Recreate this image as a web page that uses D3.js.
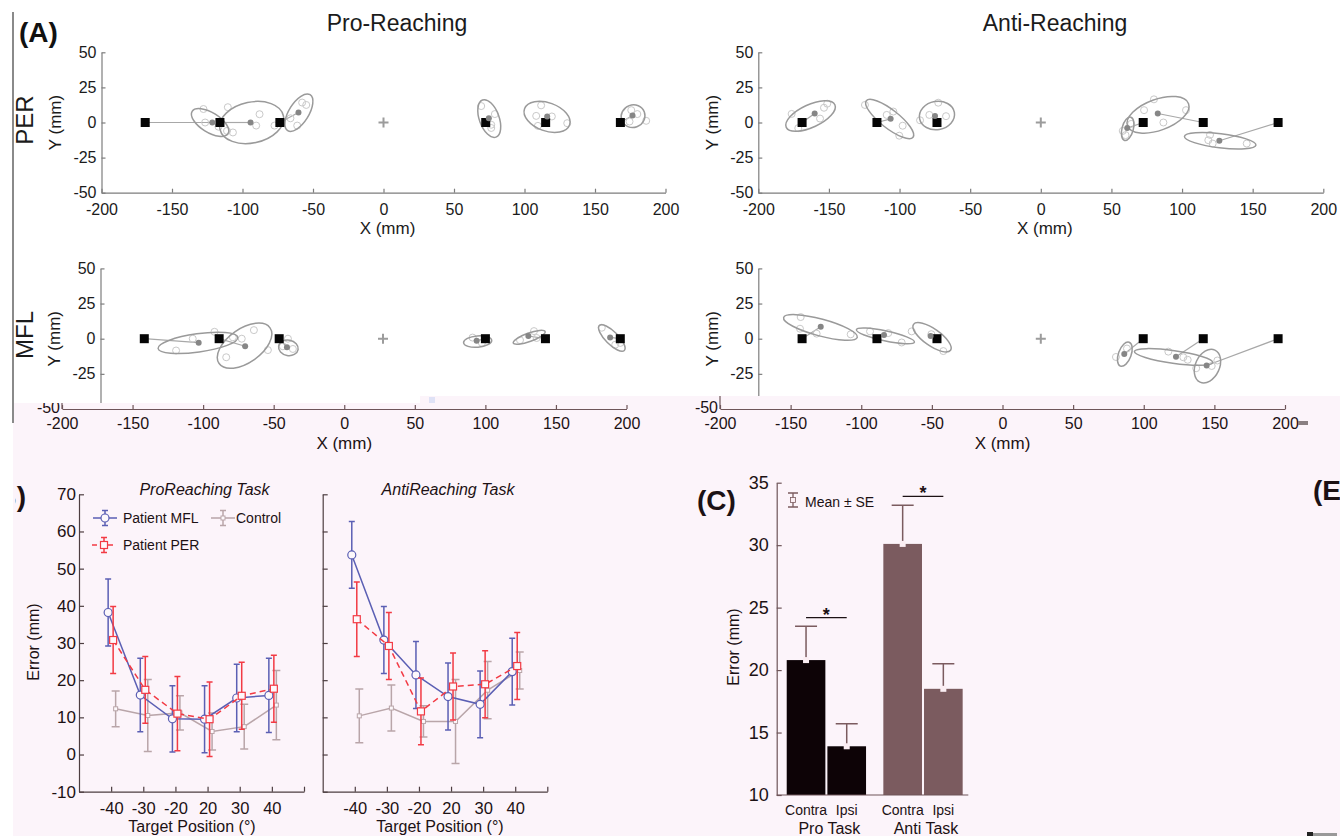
<!DOCTYPE html>
<html><head><meta charset="utf-8">
<script src="https://cdn.jsdelivr.net/npm/d3@7/dist/d3.min.js"></script>
<style>
html,body{margin:0;padding:0;background:#fff;}
svg{display:block;font-family:"Liberation Sans",Arial,Helvetica,sans-serif;}
</style></head><body>
<svg id="chart" width="1340" height="836"></svg>
<script>
// ================= DATA =================
// (A) reach endpoints, mm
const xTicksMM = [-200,-150,-100,-50,0,50,100,150,200];
const yTicksMM = [-50,-25,0,25,50];
const targetsX = [-169,-116,-73.5,72.5,115,168];

// means [x,y]; ellipses [cx,cy,semiMajor,semiMinor,angleDeg]; trials [[x,y],...]
const perProMeans = [[-121.4,0],[-94.3,0],[-60.3,7.1],[74.7,3.1],[116.1,4.3],[176.6,5]];
const perProEllipses = [[-123,0,15,7,-32],[-93.5,0,23,14.5,12],[-60,7,15,7,58],[75,2.8,14,7,-70],[116,4,17,10,-20],[177,4.5,8.5,8,20]];
const perProTrials = [
  [[-127.7,9.6],[-126.5,0],[-117,-3],[-111,-6]],
  [[-110.4,10.9],[-87.9,5.9],[-90.3,-2.2],[-77.3,-2.2],[-106.8,-7.1]],
  [[-57.7,14.2],[-54.8,12.5],[-61.2,-2.2],[-66,3]],
  [[69.3,11.7],[76.4,-1.6],[76.4,-3.9],[79,6]],
  [[111.8,12.2],[108.3,4.7],[119.4,4.3],[109.5,-2.4],[130.3,-0.5]],
  [[175.7,8.8],[180,6],[174.5,0.7],[186.3,1.2]]
];

const perAntiMeans = [[-160.1,6.4],[-106.3,2.6],[-74.9,4.7],[61.2,-4],[82.8,6.4],[126.4,-13]];
const perAntiEllipses = [[-163,4.6,19,8,25],[-107,2.5,21,6.5,-38],[-73.5,5,12.5,10,10],[61.5,-4.5,8.5,4,75],[83,5.5,23,11,20],[127,-13,25.5,5,-7]];
const perAntiTrials = [
  [[-176.4,6.1],[-171.7,-4],[-156.3,2.8],[-153.5,10.5],[-151.2,13.4]],
  [[-124.5,12.5],[-109.1,5.4],[-104.4,7.8],[-97.8,-2.3],[-100.2,-9.4]],
  [[-78.9,5.4],[-72.6,14.1],[-67.1,4.5],[-85.5,1.6]],
  [[64,-1],[60,-9],[58,-6]],
  [[80.1,16.5],[73.1,8.8],[86.8,0],[102.8,8.8]],
  [[119.8,-8.8],[118.6,-12.6],[121.7,-15],[145.8,-15]]
];

const mflProMeans = [[-130.5,-2.8],[-97.6,-5.4],[-68,-6.1],[66.3,-1.4],[102.9,1.9],[160.8,0.9]];
const mflProEllipses = [[-131,-3,28.5,6.5,8],[-98,-5,22,12,35],[-67,-6.5,7,5.5,-10],[67,-2,10,4,5],[103.5,1,12,3,20],[162,0.5,12.5,4.5,-45]];
const mflProTrials = [
  [[-146.5,-8.4],[-134.7,0],[-119.3,4.9],[-106.3,1]],
  [[-91.4,6.1],[-111,-13.2],[-100,0],[-81.5,-8.1]],
  [[-67.3,0],[-70.9,-5.4],[-63.8,-7.3]],
  [[63.4,0.8],[70,-3]],
  [[106.9,5.4],[108.8,0.5],[97,-1]],
  [[154.9,7.8],[164.4,-4.3],[168,-3]]
];

const mflAntiMeans = [[-155.8,8.5],[-111,2.6],[-78,1.9],[59.1,-10.9],[95.7,-12.8],[117.4,-19.1]];
const mflAntiEllipses = [[-156,8,27,6,-15],[-110,2,21,3.5,-12],[-77,1,16,6,-35],[59.5,-11,9,4.5,70],[94,-13,28,4.5,-8],[118,-19.5,12.5,8.5,65]];
const mflAntiTrials = [
  [[-170,15.4],[-170.5,7.1],[-158.7,3.6],[-134.6,3.1]],
  [[-120.9,5.2],[-108,4],[-98.5,-2.7]],
  [[-91.4,5.2],[-77.5,3.2],[-69,-8.8]],
  [[53.2,-13],[61,-7]],
  [[90.3,-9.2],[100.9,-13.2],[104,-15]],
  [[125,-15.5],[121,-19.4],[110,-21]]
];

// (B) error by target position
const targetPositions = ["-40","-30","-20","20","30","40"];
const errTicks = [-10,0,10,20,30,40,50,60,70];
const proMFL   = [38.2,16.0,9.6,9.5,15.2,15.9];
const proMFLse = [9,9.9,8.9,9,9.1,10];
const proPER   = [30.8,17.4,11.0,9.5,15.8,17.7];
const proPERse = [9,9,10,10,9,9];
const proCtl   = [12.3,10.5,11.2,6.2,7.5,13.3];
const proCtlse = [4.8,9.7,4.6,5,6,9.3];
const antiMFL   = [53.7,30.8,21.4,15.6,13.5,22.3];
const antiMFLse = [9,9,9,9,9,9];
const antiPER   = [36.4,29.2,11.6,18.3,18.9,23.8];
const antiPERse = [10,9,9,9,9,9];
const antiCtl   = [10.4,12.5,8.9,8.9,17.3,22.6];
const antiCtlse = [7.2,6.2,4.2,11.3,7.7,5];

// (C) mean error
const taskGroups = ["Pro Task","Anti Task"];
const sides = ["Contra","Ipsi"];
const cTicks = [10,15,20,25,30,35];
const proTaskMeans = [20.8,13.9];
const proTaskSE = [2.7,1.8];
const antiTaskMeans = [30.1,18.5];
const antiTaskSE = [3.1,2.0];

// ================= DRAW =================
const svg = d3.select("#chart");
const INK="#1b1b1b", AX="#7d7d7d";
const PINK="#fcf4fa", PINK_INK="#1c1114", PINK_AX="#6e5559";
const BLUE="#5b5fb4", RED="#f23a44", CTRL="#b9a5a9";
const BAR_DARK="#0d0306", BAR_MAUVE="#7b5b5f";

svg.append("rect").attr("width",1340).attr("height",836).attr("fill","#fff");

const fmt = d => String(d);
function styleAxis(sel, color, textColor, fs){
  sel.attr("font-family", null).attr("font-size", fs);
  sel.selectAll("path,line").attr("stroke", color).attr("stroke-width",1.2);
  sel.selectAll("text").attr("fill", textColor);
}

function scatter(cfg){
  const {x,y,means,ells,trials,showX} = cfg;
  const g = svg.append("g");
  const k = x(1)-x(0);
  const ya = d3.axisLeft(y).tickValues(yTicksMM).tickFormat(fmt).tickSizeInner(-4).tickSizeOuter(0).tickPadding(5);
  g.append("g").attr("transform",`translate(${x(-200)},0)`).call(ya).call(styleAxis, AX, INK, 16);
  const xa = d3.axisBottom(x).tickValues(xTicksMM).tickFormat(fmt).tickSizeInner(-4).tickSizeOuter(0).tickPadding(11);
  g.append("g").attr("transform",`translate(0,${y(-50)})`).call(xa).call(styleAxis, AX, INK, 16);
  if (showX) g.append("text").attr("x", x(0)+4).attr("y", y(-50)+41).attr("text-anchor","middle")
     .attr("font-size",17).attr("fill",INK).text("X (mm)");
  g.append("text").attr("transform",`translate(${x(-200)-46},${y(0)}) rotate(-90)`)
     .attr("text-anchor","middle").attr("dominant-baseline","central").attr("font-size",17).attr("fill",INK).text("Y (mm)");
  g.append("path").attr("d",`M${x(0)-5},${y(0)}H${x(0)+5}M${x(0)},${y(0)-5}V${y(0)+5}`)
    .attr("stroke","#9c9c9c").attr("stroke-width",2);
  g.selectAll(".lk").data(means).join("line")
    .attr("x1",(d,i)=>x(targetsX[i])).attr("y1",y(0)).attr("x2",d=>x(d[0])).attr("y2",d=>y(d[1]))
    .attr("stroke","#a8a8a8").attr("stroke-width",1.2);
  trials.forEach(tr=>{
    g.append("g").selectAll("circle").data(tr).join("circle")
      .attr("cx",d=>x(d[0])).attr("cy",d=>y(d[1])).attr("r",3.5)
      .attr("fill","none").attr("stroke","#c9c9c9").attr("stroke-width",1);
  });
  g.selectAll(".el").data(ells).join("ellipse")
    .attr("transform",d=>`translate(${x(d[0])},${y(d[1])}) rotate(${-d[4]})`)
    .attr("rx",d=>d[2]*k).attr("ry",d=>d[3]*k)
    .attr("fill","none").attr("stroke","#9a9a9a").attr("stroke-width",1.5);
  g.selectAll(".tg").data(targetsX).join("rect")
    .attr("x",d=>x(d)-4.5).attr("y",y(0)-4.5).attr("width",9).attr("height",9).attr("fill","#050505");
  g.selectAll(".mn").data(means).join("circle")
    .attr("cx",d=>x(d[0])).attr("cy",d=>y(d[1])).attr("r",3).attr("fill","#868686");
  return g;
}

svg.append("text").attr("x",19).attr("y",41.5).attr("font-size",28).attr("font-weight","bold").attr("fill","#111").text("(A)");
svg.append("text").attr("x",397).attr("y",31).attr("text-anchor","middle").attr("font-size",23).attr("fill",INK).text("Pro-Reaching");
svg.append("text").attr("x",1055).attr("y",31).attr("text-anchor","middle").attr("font-size",23).attr("fill",INK).text("Anti-Reaching");
svg.append("text").attr("transform","translate(24,120) rotate(-90)").attr("text-anchor","middle").attr("dominant-baseline","central").attr("font-size",24).attr("fill",INK).text("PER");
svg.append("text").attr("transform","translate(24,335) rotate(-90)").attr("text-anchor","middle").attr("dominant-baseline","central").attr("font-size",24).attr("fill",INK).text("MFL");

const yTop = d3.scaleLinear([-50,50],[192.7,52.3]);
const yMid = d3.scaleLinear([-50,50],[409,268.4]);
const xProTop = d3.scaleLinear([-200,200],[101.5,665.5]);
const xAntiTop = d3.scaleLinear([-200,200],[758.3,1323.3]);
const xProMid = d3.scaleLinear([-200,200],[100.5,665.5]);

scatter({x:xProTop,y:yTop,means:perProMeans,ells:perProEllipses,trials:perProTrials,showX:true});
scatter({x:xAntiTop,y:yTop,means:perAntiMeans,ells:perAntiEllipses,trials:perAntiTrials,showX:true});
scatter({x:xProMid,y:yMid,means:mflProMeans,ells:mflProEllipses,trials:mflProTrials,showX:false});
scatter({x:xAntiTop,y:yMid,means:mflAntiMeans,ells:mflAntiEllipses,trials:mflAntiTrials,showX:false});

// ---- pink lower strip
const pinkTopLeft = 403, pinkTopRight = 396, pinkStepX = 420;
const pinkPath = `M13,${pinkTopLeft}H${pinkStepX}V${pinkTopRight}H1340V836H13Z`;
svg.append("path").attr("d",pinkPath).attr("fill",PINK);
const defs = svg.append("defs");
defs.append("clipPath").attr("id","pinkclip").append("path").attr("d",pinkPath);
defs.append("clipPath").attr("id","bclip").append("rect").attr("x",15.5).attr("y",470).attr("width",30).attr("height",50);
const strip = svg.append("g").attr("clip-path","url(#pinkclip)");

function stripAxis(x){
  const xa = d3.axisBottom(x).tickValues(xTicksMM).tickFormat(fmt).tickSizeInner(-4).tickSizeOuter(0).tickPadding(9);
  strip.append("g").attr("transform",`translate(0,${yMid(-50)})`).call(xa).call(styleAxis, PINK_AX, PINK_INK, 16);
  strip.append("line").attr("x1",x(-200)).attr("x2",x(-200)).attr("y1",380).attr("y2",yMid(-50)).attr("stroke",PINK_AX).attr("stroke-width",1.2);
  strip.append("text").attr("x",x(-200)-2).attr("y",yMid(-50)-2).attr("text-anchor","end").attr("dominant-baseline","central")
    .attr("font-size",16).attr("fill",PINK_INK).text("-50");
  strip.append("text").attr("x",x(0)).attr("y",449).attr("text-anchor","middle").attr("font-size",17).attr("fill",PINK_INK).text("X (mm)");
}
stripAxis(d3.scaleLinear([-200,200],[62,626.5]));
stripAxis(d3.scaleLinear([-200,200],[720,1285]));
strip.append("rect").attr("x",1298).attr("y",421).attr("width",10).attr("height",4).attr("fill","#8a7f82");
strip.append("rect").attr("x",429).attr("y",397).attr("width",6).attr("height",6).attr("fill","#dfe2f6");

// ---- (B)
svg.append("g").attr("clip-path","url(#bclip)").append("text").attr("x",26).attr("y",506).attr("text-anchor","end")
  .attr("font-size",28).attr("font-weight","bold").attr("fill",PINK_INK).text("(B)");
const yB = d3.scaleLinear([-10,70],[791.7,494.3]);

function seriesDraw(g, x, vals, se, color, dx, kind){
  const xs = i => x(i+1)+dx;
  g.append("path").datum(vals).attr("d", d3.line().x((d,i)=>xs(i)).y(d=>yB(d)))
    .attr("fill","none").attr("stroke",color).attr("stroke-width",1.5)
    .attr("stroke-dasharray", kind==="per" ? "6,4" : null);
  const cw = kind==="ctl" ? 4 : 3;
  vals.forEach((v,i)=>{
    const cx = xs(i), t = yB(v+se[i]), b = yB(v-se[i]);
    g.append("path").attr("d",`M${cx},${t}V${b}M${cx-cw},${t}H${cx+cw}M${cx-cw},${b}H${cx+cw}`)
      .attr("stroke",color).attr("stroke-width",1.5).attr("fill","none");
  });
  marker(g, vals.map((v,i)=>[xs(i), yB(v)]), color, kind);
}
function marker(g, pts, color, kind){
  pts.forEach(p=>{
    if (kind==="mfl") g.append("circle").attr("cx",p[0]).attr("cy",p[1]).attr("r",4).attr("fill","#fdf8fb").attr("stroke",color).attr("stroke-width",1.2);
    else if (kind==="per") g.append("rect").attr("x",p[0]-3.5).attr("y",p[1]-3.5).attr("width",7).attr("height",7).attr("fill","#fdf8fb").attr("stroke",color).attr("stroke-width",1.2);
    else g.append("rect").attr("x",p[0]-2).attr("y",p[1]-2).attr("width",4).attr("height",4).attr("fill","#fdf8fb").attr("stroke",color).attr("stroke-width",1);
  });
}

function linePanel(x0, x1, mfl, mflse, per, perse, ctl, ctlse, title, showY, labelX){
  const x = d3.scaleLinear([0,7],[x0,x1]);
  const g = svg.append("g");
  const ya = d3.axisLeft(yB).tickValues(errTicks).tickFormat(d=> showY ? String(d) : "").tickSizeInner(-5).tickSizeOuter(0).tickPadding(3);
  g.append("g").attr("transform",`translate(${x0},0)`).call(ya).call(styleAxis, "#4d3e41", PINK_INK, 17);
  const xa = d3.axisBottom(x).tickValues([1,2,3,4,5,6,7]).tickFormat(d=> d<7 ? targetPositions[d-1] : "").tickSizeInner(-5).tickSizeOuter(0).tickPadding(11);
  g.append("g").attr("transform",`translate(0,${yB(-10)})`).call(xa).call(styleAxis, "#4d3e41", PINK_INK, 16.5);
  g.append("text").attr("x",labelX).attr("y",832).attr("text-anchor","middle").attr("font-size",16).attr("fill",PINK_INK).text("Target Position (°)");
  g.append("text").attr("x",(x0+x1)/2+13).attr("y",495).attr("text-anchor","middle").attr("font-size",16).attr("font-style","italic").attr("fill",PINK_INK).text(title);
  seriesDraw(g, x, ctl, ctlse, CTRL, 4.5, "ctl");
  seriesDraw(g, x, mfl, mflse, BLUE, -3, "mfl");
  seriesDraw(g, x, per, perse, RED, 2, "per");
  return g;
}
linePanel(79, 304, proMFL, proMFLse, proPER, proPERse, proCtl, proCtlse, "ProReaching Task", true, 192);
linePanel(322.7, 547.3, antiMFL, antiMFLse, antiPER, antiPERse, antiCtl, antiCtlse, "AntiReaching Task", false, 440);
svg.append("text").attr("transform","translate(33,642) rotate(-90)").attr("text-anchor","middle").attr("dominant-baseline","central").attr("font-size",16).attr("fill",PINK_INK).text("Error (mm)");

function legendItem(cx, cy, color, kind, label, tx){
  const g = svg.append("g");
  g.append("line").attr("x1",cx-12).attr("x2",cx+12).attr("y1",cy).attr("y2",cy).attr("stroke",color).attr("stroke-width",1.5)
    .attr("stroke-dasharray", kind==="per" ? "5,3" : null);
  g.append("path").attr("d",`M${cx},${cy-7.5}V${cy+7.5}M${cx-3},${cy-7.5}H${cx+3}M${cx-3},${cy+7.5}H${cx+3}`).attr("stroke",color).attr("stroke-width",1.5);
  marker(g, [[cx,cy]], color, kind);
  g.append("text").attr("x",tx).attr("y",cy).attr("dominant-baseline","central").attr("font-size",14).attr("fill",PINK_INK).text(label);
}
legendItem(105, 518, BLUE, "mfl", "Patient MFL", 123);
legendItem(223, 518, CTRL, "ctl", "Control", 236);
legendItem(104, 545, RED, "per", "Patient PER", 123);

// ---- (C)
const yC = d3.scaleLinear([10,35],[795,482.7]);
const xC = d3.scaleBand(taskGroups,[776.7,968.3]).paddingInner(0.179).paddingOuter(0.081).align(0.64);
const xS = d3.scaleBand(sides,[0,xC.bandwidth()]).paddingInner(0.05);
const gC = svg.append("g");
const barData = [
  {g:"Pro Task", m:proTaskMeans, se:proTaskSE, c:BAR_DARK},
  {g:"Anti Task", m:antiTaskMeans, se:antiTaskSE, c:BAR_MAUVE}
];
barData.forEach(bd=>{
  sides.forEach((s,i)=>{
    const bx = xC(bd.g)+xS(s), bw = xS.bandwidth(), cx = bx+bw/2;
    gC.append("rect").attr("x",bx).attr("y",yC(bd.m[i])).attr("width",bw).attr("height",yC(10)-yC(bd.m[i])).attr("fill",bd.c);
    const t = yC(bd.m[i]+bd.se[i]);
    gC.append("path").attr("d",`M${cx},${yC(bd.m[i])}V${t}M${cx-11},${t}H${cx+11}`).attr("stroke",BAR_MAUVE).attr("stroke-width",1.5).attr("fill","none");
    gC.append("rect").attr("x",cx-3).attr("y",yC(bd.m[i])-3).attr("width",6).attr("height",6).attr("fill","#fbeef3");
  });
  const c0 = xC(bd.g)+xS("Contra")+xS.bandwidth()/2, c1 = xC(bd.g)+xS("Ipsi")+xS.bandwidth()/2;
  const ly = yC(Math.max(bd.m[0]+bd.se[0], bd.m[1]+bd.se[1]) + 0.7);
  gC.append("line").attr("x1",c0).attr("x2",c1).attr("y1",ly).attr("y2",ly).attr("stroke",PINK_INK).attr("stroke-width",1.3);
  gC.append("text").attr("x",(c0+c1)/2).attr("y",ly+3).attr("text-anchor","middle").attr("font-size",18).attr("font-weight","bold").attr("fill",PINK_INK).text("*");
  sides.forEach(s=>{
    gC.append("text").attr("x",xC(bd.g)+xS(s)+xS.bandwidth()/2).attr("y",815).attr("text-anchor","middle").attr("font-size",14).attr("fill",PINK_INK).text(s);
  });
  gC.append("text").attr("x",xC(bd.g)+xC.bandwidth()/2+3).attr("y",834).attr("text-anchor","middle").attr("font-size",16).attr("fill",PINK_INK).text(bd.g);
});
const yCa = d3.axisLeft(yC).tickValues(cTicks).tickFormat(fmt).tickSizeInner(-5).tickSizeOuter(0).tickPadding(8);
gC.append("g").attr("transform","translate(776.7,0)").call(yCa).call(styleAxis, PINK_AX, PINK_INK, 18);
gC.append("line").attr("x1",776.7).attr("x2",968.3).attr("y1",yC(10)).attr("y2",yC(10)).attr("stroke",PINK_AX).attr("stroke-width",1.2);
gC.append("text").attr("transform","translate(733,647) rotate(-90)").attr("text-anchor","middle").attr("dominant-baseline","central").attr("font-size",16).attr("fill",PINK_INK).text("Error (mm)");
gC.append("path").attr("d","M793,493V507M788,493H798M788,507H798").attr("stroke",BAR_MAUVE).attr("stroke-width",1.3).attr("fill","none");
gC.append("rect").attr("x",790.5).attr("y",497.5).attr("width",5).attr("height",5).attr("fill","#fbeef3").attr("stroke",BAR_MAUVE).attr("stroke-width",0.8);
gC.append("text").attr("x",805).attr("y",501.5).attr("dominant-baseline","central").attr("font-size",14).attr("fill",PINK_INK).text("Mean ± SE");
svg.append("text").attr("x",697).attr("y",510).attr("font-size",28).attr("font-weight","bold").attr("fill",PINK_INK).text("(C)");
svg.append("text").attr("x",1313).attr("y",500).attr("font-size",28).attr("font-weight","bold").attr("fill",PINK_INK).text("(E)");
svg.append("rect").attr("x",1307).attr("y",832).attr("width",6).attr("height",4).attr("fill","#222");
svg.append("rect").attr("x",1313).attr("y",833).attr("width",24).attr("height",3).attr("fill","#999");

svg.append("line").attr("x1",13).attr("x2",13).attr("y1",12).attr("y2",423).attr("stroke","#8a8a8a").attr("stroke-width",2);
</script>
</body></html>
